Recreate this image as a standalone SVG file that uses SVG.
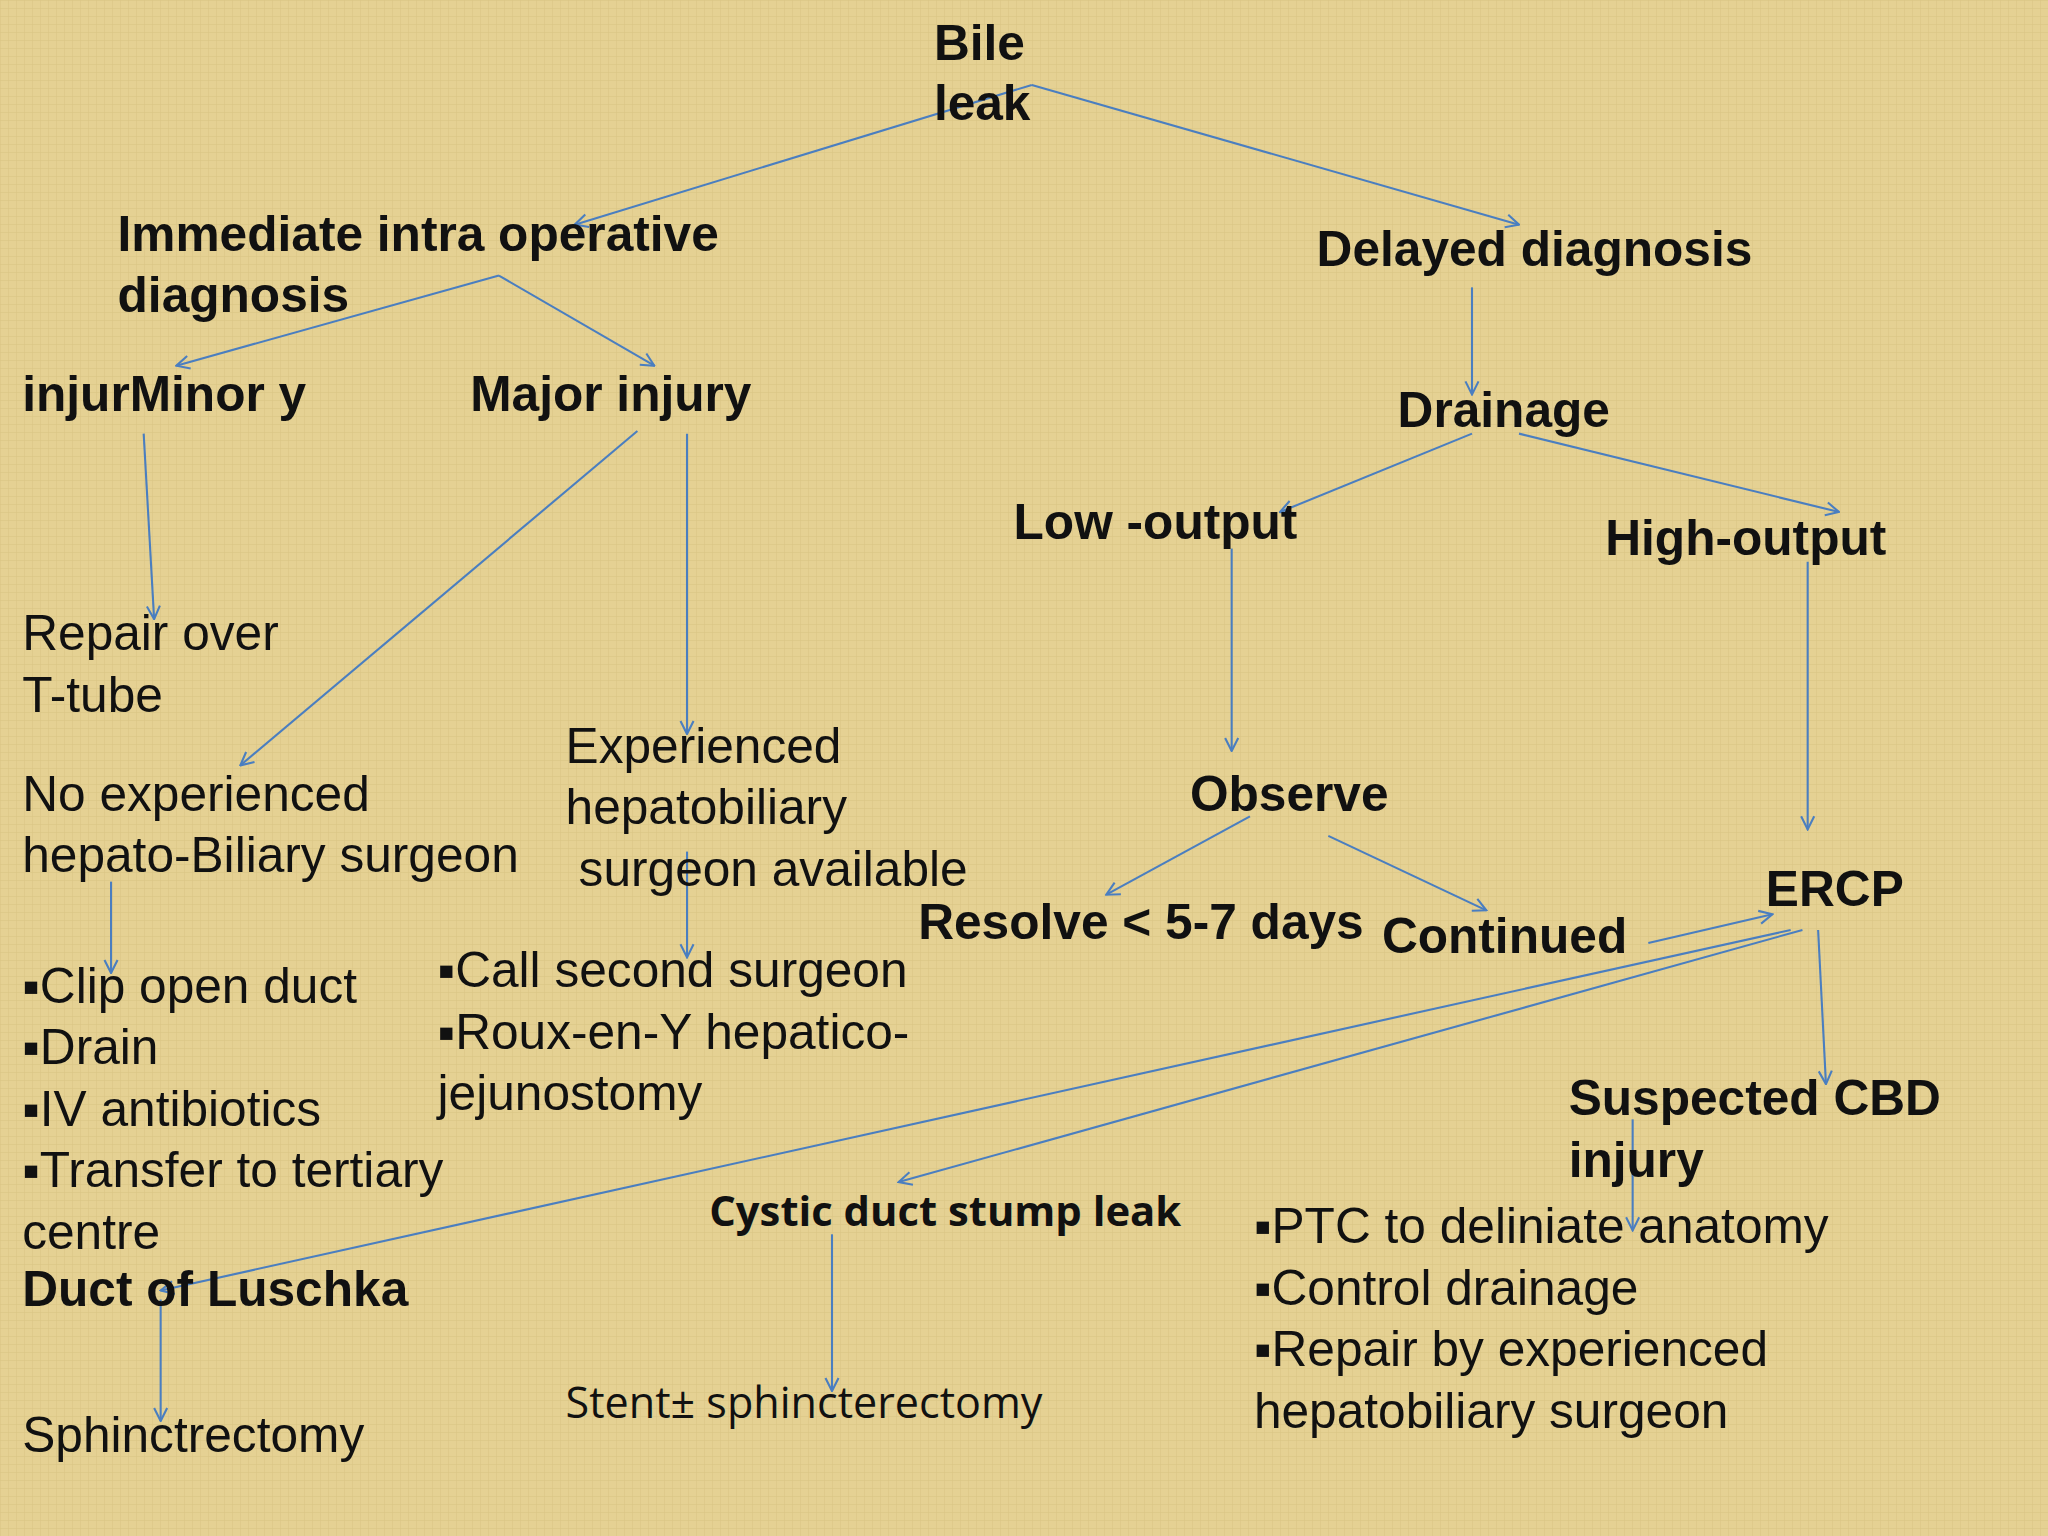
<svg xmlns="http://www.w3.org/2000/svg" width="2048" height="1536" viewBox="0 0 2048 1536">
<defs>
<marker id="ah" viewBox="0 0 12 12" refX="11" refY="6" markerWidth="12" markerHeight="12" markerUnits="userSpaceOnUse" orient="auto">
<polyline points="1,1 11,6 1,11" fill="none" stroke="#4A7EC0" stroke-width="1.6"/>
</marker>
<pattern id="tex" width="8" height="8" patternUnits="userSpaceOnUse">
<rect width="8" height="8" fill="#E5D193"/>
<rect width="8" height="1" fill="#D9C483" opacity="0.6"/>
<rect width="1" height="8" fill="#D9C483" opacity="0.5"/>
</pattern>
</defs>
<style>
.b{font-family:"Liberation Sans",Arial,sans-serif;font-weight:bold;font-size:38px;fill:#111}
.r{font-family:"Liberation Sans",Arial,sans-serif;font-size:38px;fill:#111}
.s{font-family:"Open Sans","Liberation Sans",sans-serif;font-size:33px;fill:#111}
.sb{font-family:"Open Sans","Liberation Sans",sans-serif;font-weight:bold;font-size:32px;fill:#111}
#connectors line{stroke:#4A7EC0;stroke-width:1.6;marker-end:url(#ah)}
</style>
<rect width="2048" height="1536" fill="url(#tex)"/>
<g transform="scale(1.30612)">
<g id="connectors">
<line x1="790" y1="65" x2="440" y2="172"/>
<line x1="790" y1="65" x2="1163" y2="172"/>
<line x1="382" y1="211" x2="135" y2="280"/>
<line x1="382" y1="211" x2="501" y2="280"/>
<line x1="110" y1="332" x2="118" y2="474"/>
<line x1="488" y1="330" x2="184" y2="586"/>
<line x1="526" y1="332" x2="526" y2="562"/>
<line x1="1127" y1="220" x2="1127" y2="302"/>
<line x1="1127" y1="332" x2="980" y2="392"/>
<line x1="1163" y1="332" x2="1408" y2="392"/>
<line x1="943" y1="420" x2="943" y2="575"/>
<line x1="1384" y1="430" x2="1384" y2="635"/>
<line x1="957" y1="625" x2="847" y2="685"/>
<line x1="1017" y1="640" x2="1138" y2="697"/>
<line x1="1262" y1="722" x2="1357" y2="700"/>
<line x1="1371" y1="712" x2="123" y2="988"/>
<line x1="1380" y1="712" x2="688" y2="905"/>
<line x1="1392" y1="712" x2="1398" y2="830"/>
<line x1="85" y1="675" x2="85" y2="745"/>
<line x1="526" y1="652" x2="526" y2="733"/>
<line x1="123" y1="995" x2="123" y2="1088"/>
<line x1="637" y1="945" x2="637" y2="1065"/>
<line x1="1250" y1="857" x2="1250" y2="942"/>
</g>
<g id="bile"><text class="b" x="715" y="46">Bile</text><text class="b" x="715" y="92">leak</text></g>
<g id="immediate"><text class="b" x="90" y="192">Immediate intra operative</text><text class="b" x="90" y="239">diagnosis</text></g>
<g id="delayed"><text class="b" x="1008" y="204">Delayed diagnosis</text></g>
<g id="minor"><text class="b" x="17" y="315">injurMinor y</text></g>
<g id="major"><text class="b" x="360" y="315">Major injury</text></g>
<g id="drainage"><text class="b" x="1070" y="327">Drainage</text></g>
<g id="low"><text class="b" x="776" y="413">Low -output</text></g>
<g id="high"><text class="b" x="1229" y="425">High-output</text></g>
<g id="observe"><text class="b" x="911" y="621">Observe</text></g>
<g id="resolve"><text class="b" x="703" y="719">Resolve &lt; 5-7 days</text></g>
<g id="continued"><text class="b" x="1058" y="730">Continued</text></g>
<g id="ercp"><text class="b" x="1352" y="694">ERCP</text></g>
<g id="cbd"><text class="b" x="1201" y="854">Suspected CBD</text><text class="b" x="1201" y="901">injury</text></g>
<g id="cystic"><text class="sb" x="543" y="939">Cystic duct stump leak</text></g>
<g id="luschka"><text class="b" x="17" y="1000">Duct of Luschka</text></g>
<g id="repair"><text class="r" x="17" y="498">Repair over</text><text class="r" x="17" y="545">T-tube</text></g>
<g id="experienced"><text class="r" x="433" y="584">Experienced</text><text class="r" x="433" y="631">hepatobiliary</text><text class="r" x="443" y="678">surgeon available</text></g>
<g id="noexp"><text class="r" x="17" y="621">No experienced</text><text class="r" x="17" y="668">hepato-Biliary surgeon</text></g>
<g id="clip"><text class="r" x="17" y="768">▪Clip open duct</text><text class="r" x="17" y="815">▪Drain</text><text class="r" x="17" y="862">▪IV antibiotics</text><text class="r" x="17" y="909">▪Transfer to tertiary</text><text class="r" x="17" y="956">centre</text></g>
<g id="call"><text class="r" x="335" y="756">▪Call second surgeon</text><text class="r" x="335" y="803">▪Roux-en-Y hepatico-</text><text class="r" x="335" y="850">jejunostomy</text></g>
<g id="stent"><text class="s" x="433" y="1086">Stent± sphincterectomy</text></g>
<g id="sphinc"><text class="r" x="17" y="1112">Sphinctrectomy</text></g>
<g id="ptc"><text class="r" x="960" y="952">▪PTC to deliniate anatomy</text><text class="r" x="960" y="999">▪Control drainage</text><text class="r" x="960" y="1046">▪Repair by experienced</text><text class="r" x="960" y="1093">hepatobiliary surgeon</text></g>
</g>
</svg>
